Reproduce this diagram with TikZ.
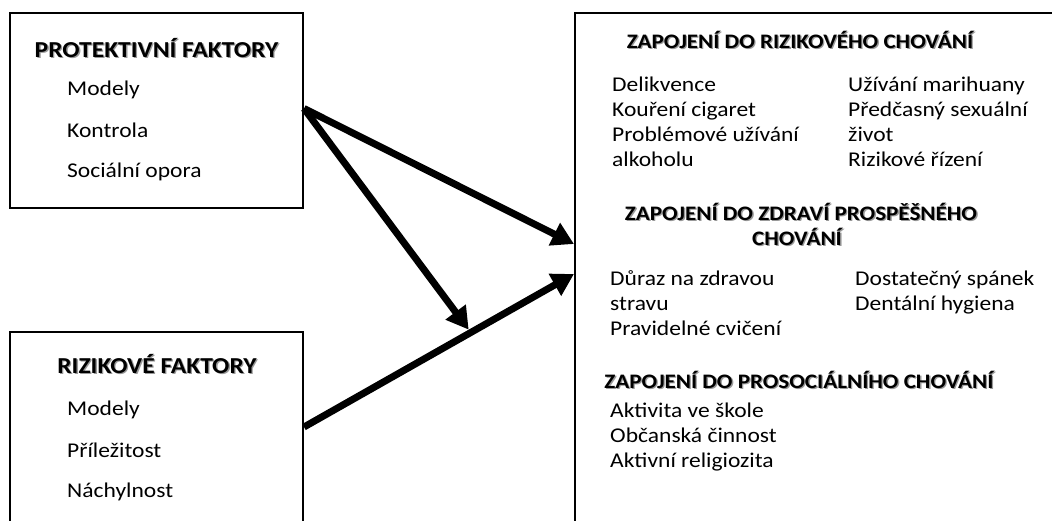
\documentclass[tikz,border=0pt]{standalone}
\usepackage{fontspec}
\setmainfont[FakeStretch=1.12]{Carlito}
\usetikzlibrary{arrows.meta,calc}
\newcommand\shd[1]{\makebox[0pt][l]{\hspace{1.3pt}\raisebox{-1.3pt}{\textcolor{black!40}{#1}}}#1}
\begin{document}
\begin{tikzpicture}[x=1pt,y=-1pt,
  box/.style={draw=black,line width=2pt,inner sep=0pt},
  head/.style={font=\fontsize{22.8}{25}\selectfont\bfseries,inner sep=0pt,anchor=base},
  rhead/.style={font=\fontsize{20.6}{25}\selectfont\bfseries,inner sep=0pt,anchor=base},
  item/.style={font=\fontsize{21}{25}\selectfont,inner sep=0pt,anchor=base west},
  arr/.style={line width=7pt,-{Triangle[length=22pt,width=24pt]}}]
\useasboundingbox (0,0) rectangle (1052,520);
\clip (0,0) rectangle (1052,520);
% boxes
\node[box,minimum width=293pt,minimum height=195pt] (prot) at (156.5,110.5) {};
\node[box,minimum width=293pt,minimum height=248pt] (risk) at (156.5,456) {};
\node[box,minimum width=525pt,minimum height=567pt] (outc) at (837.5,296.5) {};
% left box texts
\node[head] (hp) at (156.5,57) {\shd{PROTEKTIVNÍ FAKTORY}};
\foreach \t/\y [count=\i] in {Modely/95,Kontrola/137,Sociální opora/177}
  \node[item] (p\i) at (67,\y) {\t};
\node[head] (hr) at (157,373) {\shd{RIZIKOVÉ FAKTORY}};
\foreach \t/\y [count=\i] in {Modely/415,Příležitost/457,Náchylnost/497}
  \node[item] (r\i) at (67,\y) {\t};
% right box texts
\node[rhead] (h1) at (800,48) {\shd{ZAPOJENÍ DO RIZIKOVÉHO CHOVÁNÍ}};
\foreach \t/\y [count=\i] in {Delikvence/91,Kouření cigaret/116,Problémové užívání/141,alkoholu/166}
  \node[item] (a\i) at (612,\y) {\t};
\foreach \t/\y [count=\i] in {Užívání marihuany/91,Předčasný sexuální/116,život/141,Rizikové řízení/166}
  \node[item] (b\i) at (848,\y) {\t};
\node[rhead] (h2a) at (801,220) {\shd{ZAPOJENÍ DO ZDRAVÍ PROSPĚŠNÉHO}};
\node[rhead] (h2b) at (797,245) {\shd{CHOVÁNÍ}};
\foreach \t/\y [count=\i] in {Důraz na zdravou/285,stravu/310,Pravidelné cvičení/335}
  \node[item] (c\i) at (610,\y) {\t};
\foreach \t/\y [count=\i] in {Dostatečný spánek/285,Dentální hygiena/310}
  \node[item] (d\i) at (855,\y) {\t};
\node[rhead] (h3) at (799,388) {\shd{ZAPOJENÍ DO PROSOCIÁLNÍHO CHOVÁNÍ}};
\foreach \t/\y [count=\i] in {Aktivita ve škole/417,Občanská činnost/442,Aktivní religiozita/467}
  \node[item] (e\i) at (610,\y) {\t};
% arrows
\coordinate (s1) at ($(prot.east)+(0,-2)$);
\coordinate (t1) at ($(outc.north west)+(0,232)$);
\coordinate (t3) at ($(outc.north west)+(0,262)$);
\coordinate (s3) at ($(risk.north east)+(0,96)$);
\path ($(s3)!0.61!(t3)$) coordinate (mm);
\coordinate (m) at ($(mm)+(0,-4)$);
\draw[arr] (s1) -- (t1);
\draw[arr] (s1) -- (m);
\draw[arr] (s3) -- (t3);
\end{tikzpicture}
\end{document}
